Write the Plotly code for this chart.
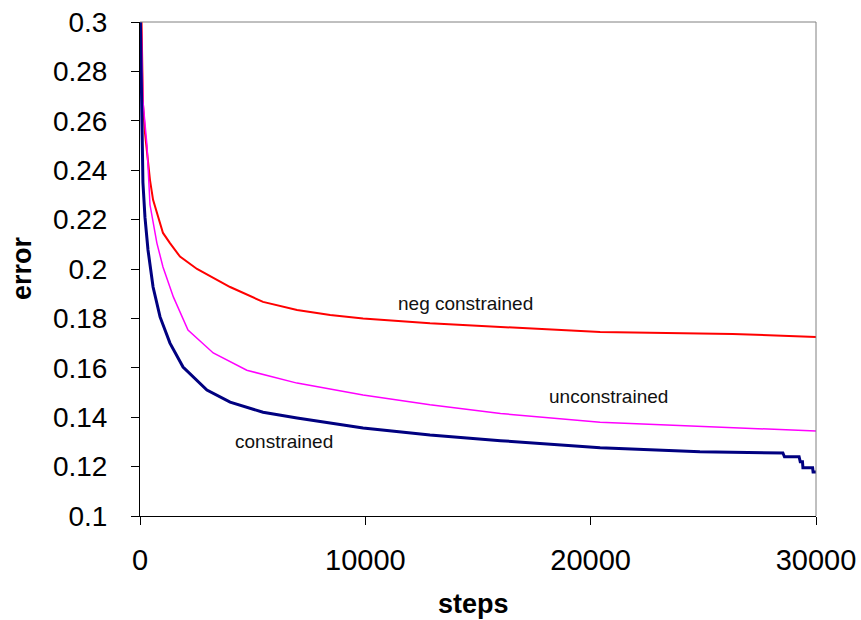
import plotly.graph_objects as go

# ---- data ----
neg_steps = [50, 130, 222, 310, 444, 580, 1020, 1330, 1775, 2530, 4000, 5460, 6970, 8440, 9900, 12870, 16000, 20420, 26300, 30000]
neg_error = [0.31, 0.267, 0.255, 0.247, 0.236, 0.228, 0.2146, 0.2105, 0.205, 0.2, 0.1927, 0.1867, 0.1834, 0.1814, 0.180, 0.178, 0.1765, 0.1745, 0.1737, 0.1725]

unc_steps = [30, 130, 310, 444, 750, 1020, 1480, 2130, 3250, 4740, 6970, 9900, 12870, 16000, 20420, 24400, 27800, 30000]
unc_error = [0.31, 0.268, 0.25, 0.226, 0.2105, 0.2008, 0.1887, 0.1753, 0.166, 0.159, 0.1538, 0.149, 0.145, 0.1415, 0.138, 0.1364, 0.1352, 0.1344]

con_steps = [0, 40, 90, 130, 220, 355, 580, 890, 1330, 1910, 2970, 4000, 5460, 6970, 9900, 12870, 16000, 20420, 24850, 28530, 28600, 29250, 29300, 29400, 29420, 29850, 29870, 30000]
con_error = [0.31, 0.28, 0.249, 0.235, 0.221, 0.2077, 0.1927, 0.1806, 0.170, 0.1603, 0.151, 0.1461, 0.142, 0.1397, 0.1356, 0.1328, 0.1305, 0.1276, 0.126, 0.1255, 0.124, 0.124, 0.122, 0.122, 0.1195, 0.1195, 0.1178, 0.1178]

x_tickvals = [0, 10000, 20000, 30000]
x_ticktext = ["0", "10000", "20000", "30000"]
y_tickvals = [0.1, 0.12, 0.14, 0.16, 0.18, 0.2, 0.22, 0.24, 0.26, 0.28, 0.3]
y_ticktext = ["0.1", "0.12", "0.14", "0.16", "0.18", "0.2", "0.22", "0.24", "0.26", "0.28", "0.3"]

labels = ["neg constrained", "unconstrained", "constrained"]
label_x = [14445, 20810, 6390]
label_y = [0.1862, 0.1482, 0.1300]

FONT = "Liberation Sans, Arial, sans-serif"

fig = go.Figure()
fig.add_trace(go.Scatter(x=neg_steps, y=neg_error, mode="lines",
                         line=dict(color="#FF0000", width=2), name=labels[0]))
fig.add_trace(go.Scatter(x=unc_steps, y=unc_error, mode="lines",
                         line=dict(color="#FF00FF", width=1.5), name=labels[1]))
fig.add_trace(go.Scatter(x=con_steps, y=con_error, mode="lines",
                         line=dict(color="#000080", width=3), name=labels[2]))

for t, lx, ly in zip(labels, label_x, label_y):
    fig.add_annotation(x=lx, y=ly, xref="x", yref="y", text=t, showarrow=False,
                       xanchor="center", yanchor="middle",
                       font=dict(family=FONT, size=19, color="#111111"))

fig.add_annotation(x=0.494, y=-0.178, xref="paper", yref="paper", text="<b>steps</b>",
                   xanchor="center", yanchor="middle",
                   showarrow=False, font=dict(family=FONT, size=27, color="black"))
fig.add_annotation(x=-0.1746, y=0.502, xref="paper", yref="paper", text="<b>error</b>",
                   xanchor="center", yanchor="middle",
                   textangle=-90, showarrow=False, font=dict(family=FONT, size=27, color="black"))

# gray plot-area border (top and right)
fig.add_shape(type="line", xref="paper", yref="paper", x0=0, x1=1, y0=1, y1=1,
              line=dict(color="#808080", width=1))
fig.add_shape(type="line", xref="paper", yref="paper", x0=1, x1=1, y0=0, y1=1,
              line=dict(color="#808080", width=1))

fig.update_layout(
    width=861, height=620,
    margin=dict(l=140, r=45, t=22, b=104, autoexpand=False),
    paper_bgcolor="white", plot_bgcolor="white",
    showlegend=False,
    font=dict(family=FONT, color="black"),
    xaxis=dict(range=[0, 30000], tickvals=x_tickvals, ticktext=x_ticktext, automargin=False,
               showgrid=False, zeroline=False, showline=True, linecolor="black", linewidth=1,
               ticks="outside", ticklen=8, tickcolor="black",
               tickfont=dict(family=FONT, size=29, color="black"), ticklabelstandoff=10),
    yaxis=dict(range=[0.1, 0.3], tickvals=y_tickvals, ticktext=y_ticktext, automargin=False,
               showgrid=False, zeroline=False, showline=True, linecolor="black", linewidth=1,
               ticks="outside", ticklen=8, tickcolor="black",
               tickfont=dict(family=FONT, size=28, color="black"), ticklabelstandoff=18),
)

fig.write_html("out.html")
